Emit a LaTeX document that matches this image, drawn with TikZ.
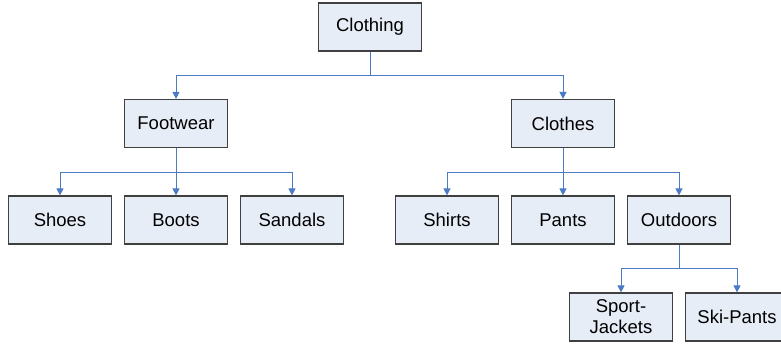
\documentclass[tikz,border=0pt]{standalone}
\usepackage{fontspec}
\setmainfont{Liberation Sans}
\usetikzlibrary{arrows.meta}
\definecolor{boxfill}{HTML}{E7EDF7}
\definecolor{boxline}{HTML}{404040}
\definecolor{conncol}{HTML}{4A7BC4}
\tikzset{
  box/.style={draw=boxline, line width=1.2pt, fill=boxfill, minimum width=103pt, minimum height=48pt,
    inner sep=0pt, align=center, font=\fontsize{18.5}{21}\selectfont},
  conn/.style={draw=conncol, line width=1pt, -{Triangle[length=7pt,width=7pt]}},
  bus/.style={draw=conncol, line width=1pt}
}
\begin{document}
\begin{tikzpicture}[x=1pt,y=-1pt]
\useasboundingbox (0,0) rectangle (781,349);
\node[box] (clothing) at (370,27) {Clothing};
\node[box] (footwear) at (176,123.5) {Footwear};
\node[box] (clothes) at (563,123.5) {Clothes};
\node[box] (shoes) at (60,220) {Shoes};
\node[box] (boots) at (176,220) {Boots};
\node[box] (sandals) at (292,220) {Sandals};
\node[box] (shirts) at (447,220) {Shirts};
\node[box] (pants) at (563,220) {Pants};
\node[box] (outdoors) at (679,220) {Outdoors};
\node[box] (sport) at (621,317) {Sport-\\Jackets};
\node[box] (ski) at (737,317) {Ski-Pants};
\coordinate (b1) at (0,75);
\coordinate (b2) at (0,172);
\coordinate (b3) at (0,268);
\draw[bus] (clothing.south) -- (clothing.south |- b1);
\draw[conn] (clothing.south |- b1) -| (footwear.north);
\draw[conn] (clothing.south |- b1) -| (clothes.north);
\draw[bus] (footwear.south) -- (footwear.south |- b2);
\draw[conn] (footwear.south |- b2) -| (shoes.north);
\draw[conn] (footwear.south) -- (boots.north);
\draw[conn] (footwear.south |- b2) -| (sandals.north);
\draw[bus] (clothes.south) -- (clothes.south |- b2);
\draw[conn] (clothes.south |- b2) -| (shirts.north);
\draw[conn] (clothes.south) -- (pants.north);
\draw[conn] (clothes.south |- b2) -| (outdoors.north);
\draw[bus] (outdoors.south) -- (outdoors.south |- b3);
\draw[conn] (outdoors.south |- b3) -| (sport.north);
\draw[conn] (outdoors.south |- b3) -| (ski.north);
\end{tikzpicture}
\end{document}
